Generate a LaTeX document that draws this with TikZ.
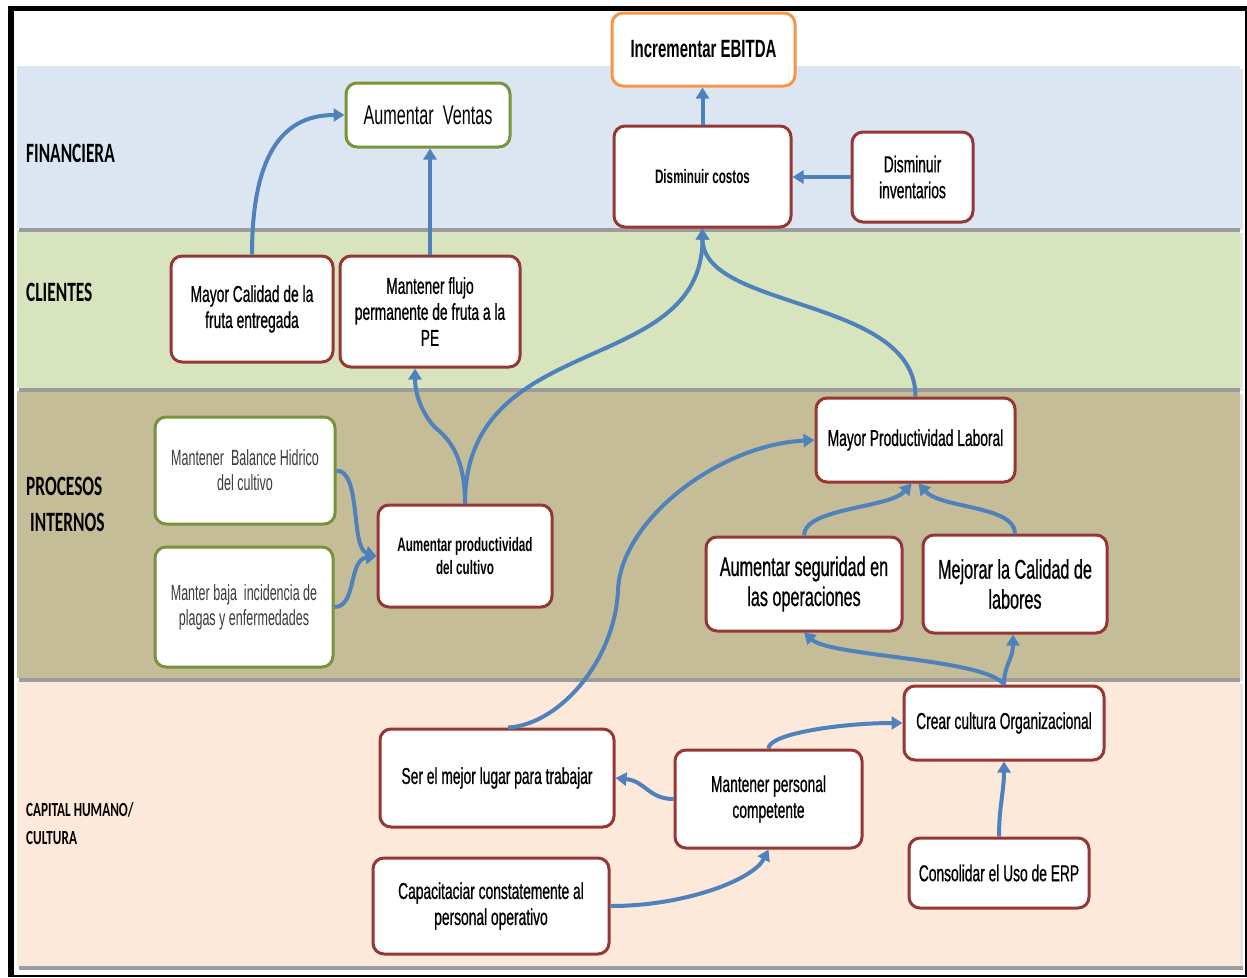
\documentclass[tikz,border=0pt]{standalone}
\usepackage{fontspec}
\setmainfont{Liberation Sans}[FakeStretch=0.6]
\newfontfamily\medf{Liberation Sans}[FakeStretch=0.6,FakeBold=0.7]
\newfontfamily\lightf{Liberation Sans}[FakeStretch=0.57]
\newfontfamily\labf{Carlito}[FakeStretch=0.62]
\newfontfamily\labsf{Carlito}[FakeStretch=0.66]
\usetikzlibrary{arrows.meta}
\definecolor{bandA}{HTML}{DCE6F2}
\definecolor{bandB}{HTML}{D7E4BD}
\definecolor{bandC}{HTML}{C4BD97}
\definecolor{bandD}{HTML}{FDE9D9}
\definecolor{redb}{HTML}{953735}
\definecolor{greenb}{HTML}{77933C}
\definecolor{orangeb}{HTML}{F79646}
\definecolor{arrowc}{HTML}{4F81BD}
\definecolor{lighttext}{HTML}{3A3A3A}
\definecolor{shadowc}{HTML}{9C9C9C}
\definecolor{shadowr}{HTML}{E2E2E2}
\tikzset{
  box/.style={draw=redb, line width=3pt, fill=white, rounded corners=11pt, align=center, inner sep=0pt, text=black},
  gbox/.style={box, draw=greenb},
  obox/.style={box, draw=orangeb},
  conn/.style={draw=arrowc, line width=4pt, -{Triangle[length=11pt,width=13pt]}},
  lab/.style={anchor=west, inner sep=0pt, font=\labf\bfseries\fontsize{28}{28}\selectfont},
  labsmall/.style={anchor=west, inner sep=0pt, font=\labsf\bfseries\fontsize{20}{20}\selectfont},
  fmain/.style={font=\medf\fontsize{23}{26}\selectfont},
  fbig/.style={font=\medf\fontsize{27}{30}\selectfont},
  freg/.style={font=\fontsize{27}{30}\selectfont},
  fbold/.style={font=\bfseries\fontsize{19.5}{23}\selectfont},
  flight/.style={font=\lightf\fontsize{22}{25}\selectfont, text=lighttext},
}
\begin{document}
\begin{tikzpicture}[x=1pt,y=-1pt]
\useasboundingbox (0,0) rectangle (1247,977);
% frame
\fill[black] (8,6) rectangle (1247,977);
\fill[white] (14,11) rectangle (1245,975);
% bands (bottom to top so shadows fall on the band below)
\fill[shadowr] (1240,684) rectangle (1243,970);
\fill[shadowc] (19,966) rectangle (1243,970);
\fill[bandD] (17,681) rectangle (1240,966);
\fill[shadowr] (1240,394) rectangle (1243,681);
\fill[shadowc] (19,678) rectangle (1240,682);
\fill[bandC] (17,391) rectangle (1240,678);
\fill[shadowr] (1240,233) rectangle (1243,391);
\fill[shadowc] (19,388) rectangle (1240,392);
\fill[bandB] (17,230) rectangle (1240,388);
\fill[shadowr] (1240,69) rectangle (1243,230);
\fill[shadowc] (19,228) rectangle (1240,232);
\fill[bandA] (17,66) rectangle (1240,228);

% band labels
\node[lab] (lfin) at (26,153) {FINANCIERA};
\node[lab] (lcli) at (26,292) {CLIENTES};
\node[lab] (lpro1) at (26,486) {PROCESOS};
\node[lab] (lpro2) at (30,522) {INTERNOS};
\node[labsmall] (lcap1) at (26,810) {CAPITAL HUMANO/};
\node[labsmall] (lcap2) at (26,838) {CULTURA};

% nodes
\node[obox, minimum width=183pt, minimum height=73pt, font=\bfseries\fontsize{25}{28}\selectfont] (ebitda) at (703.5,49.5) {Incrementar EBITDA};
\node[gbox, minimum width=164pt, minimum height=64pt, freg] (ventas) at (428,115) {Aumentar\ \ Ventas};
\node[box, minimum width=177pt, minimum height=101pt, fbold] (dc) at (702.5,176.5) {Disminuir costos};
\node[box, minimum width=121pt, minimum height=90pt, fmain] (inv) at (912.5,177) {Disminuir\\inventarios};
\node[box, minimum width=162pt, minimum height=106pt, fmain] (mc) at (252,309) {Mayor Calidad de la\\fruta entregada};
\node[box, minimum width=180pt, minimum height=111pt, fmain] (flujo) at (430,311.5) {Mantener flujo\\permanente de fruta a la\\PE};
\node[gbox, minimum width=180pt, minimum height=107pt, flight] (mbh) at (245,470.5) {Mantener\ \ Balance Hidrico\\del cultivo};
\node[gbox, minimum width=178pt, minimum height=120pt, flight] (mbi) at (244,607) {Manter baja\ \ incidencia de\\plagas y enfermedades};
\node[box, minimum width=174pt, minimum height=102pt, fbold] (ap) at (465,556) {Aumentar productividad\\del cultivo};
\node[box, minimum width=199pt, minimum height=84pt, fmain] (mpl) at (915.5,440) {Mayor Productividad Laboral};
\node[box, minimum width=196pt, minimum height=94pt, fbig] (as) at (804,584) {Aumentar seguridad en\\las operaciones};
\node[box, minimum width=184pt, minimum height=98pt, fbig] (mcl) at (1015,584) {Mejorar la Calidad de\\labores};
\node[box, minimum width=200pt, minimum height=74pt, fmain] (cc) at (1004,723) {Crear cultura Organizacional};
\node[box, minimum width=180pt, minimum height=70pt, fmain] (erp) at (999,873) {Consolidar el Uso de ERP};
\node[box, minimum width=234pt, minimum height=98pt, fmain] (ser) at (497,778) {Ser el mejor lugar para trabajar};
\node[box, minimum width=187pt, minimum height=98pt, fmain] (mp) at (768.5,799) {Mantener personal\\competente};
\node[box, minimum width=236pt, minimum height=96pt, fmain] (cap) at (491,906) {Capacitaciar constatemente al\\personal operativo};

% connectors
\draw[conn] (mc.north) .. controls +(0,-110) and +(-55,0) .. (ventas.west);
\draw[conn] (flujo.north) -- (flujo.north |- ventas.south);
\draw[conn] (dc.north) -- (dc.north |- ebitda.south);
\draw[conn] (inv.west) -- (inv.west -| dc.east);
\coordinate (k1) at (438,430);
\draw[conn] (ap.north) .. controls +(0,-45) and +(12,10) .. (k1) .. controls +(-10,-8) and +(0,32) .. ([xshift=-15pt]flujo.south);
\draw[conn] (ap.north) .. controls +(0,-175) and +(0,150) .. (dc.south);
\draw[conn] (mpl.north) .. controls +(0,-100) and +(0,82) .. (dc.south);
\coordinate (g1) at (618,590);
\draw[conn] ([xshift=11pt]ser.north) .. controls +(52,-3) and +(-3,70) .. (g1) .. controls +(3,-70) and +(-96,5) .. (mpl.west);
\draw[conn] (mbh.east) .. controls +(25,0) and +(-26,-8) .. (ap.west);
\draw[conn] (mbi.east) .. controls +(22,0) and +(-28,4) .. (ap.west);
\draw[conn] (as.north) .. controls +(0,-28) and +(-22,25) .. ([xshift=-4pt]mpl.south);
\draw[conn] (mcl.north) .. controls +(0,-28) and +(22,25) .. ([xshift=3pt]mpl.south);
\draw[conn] (cc.north) .. controls +(-19,-26) and +(26,24) .. (as.south);
\draw[conn] (cc.north) .. controls +(0,-20) and +(0,25) .. ([xshift=-2pt]mcl.south);
\draw[conn] (mp.north) .. controls +(0,-15) and +(-60,0) .. (cc.west);
\draw[conn] (mp.west) .. controls +(-25,0) and +(30,3) .. (ser.east);
\draw[conn] (cap.east) .. controls +(75,0) and +(-15,30) .. (mp.south);
\draw[conn] (erp.north) .. controls +(0,-30) and +(0,30) .. (cc.south);
\end{tikzpicture}
\end{document}
